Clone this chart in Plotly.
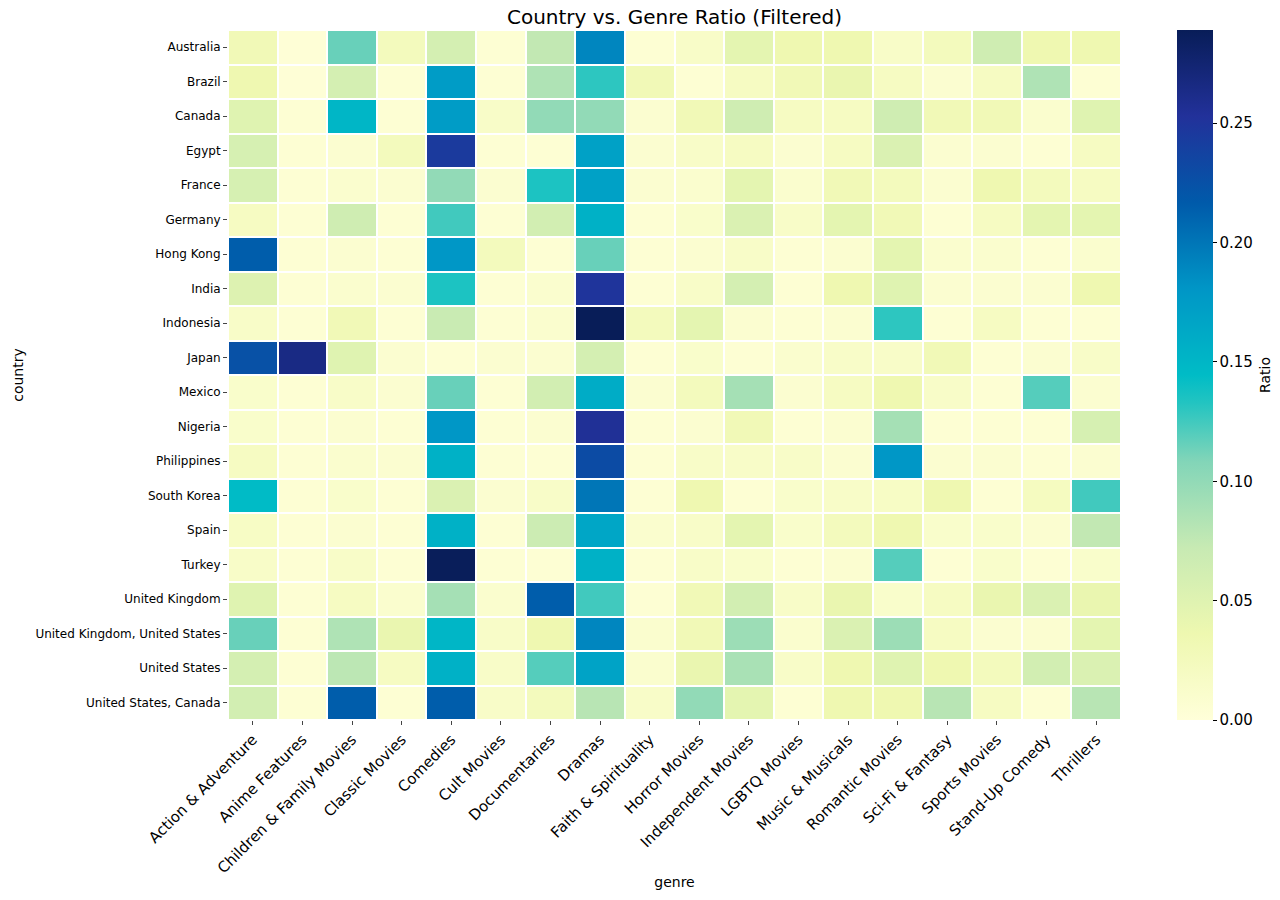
import plotly.graph_objects as go

countries = ["Australia", "Brazil", "Canada", "Egypt", "France", "Germany", "Hong Kong",
             "India", "Indonesia", "Japan", "Mexico", "Nigeria", "Philippines", "South Korea",
             "Spain", "Turkey", "United Kingdom", "United Kingdom, United States",
             "United States", "United States, Canada"]

genres = ["Action & Adventure", "Anime Features", "Children & Family Movies", "Classic Movies",
          "Comedies", "Cult Movies", "Documentaries", "Dramas", "Faith & Spirituality",
          "Horror Movies", "Independent Movies", "LGBTQ Movies", "Music & Musicals",
          "Romantic Movies", "Sci-Fi & Fantasy", "Sports Movies", "Stand-Up Comedy", "Thrillers"]

australia   = [0.030, 0.003, 0.115, 0.025, 0.060, 0.005, 0.075, 0.190, 0.005, 0.015, 0.045, 0.035, 0.035, 0.015, 0.025, 0.065, 0.035, 0.035]
brazil      = [0.035, 0.003, 0.060, 0.005, 0.175, 0.005, 0.085, 0.130, 0.030, 0.005, 0.020, 0.030, 0.040, 0.020, 0.008, 0.020, 0.085, 0.005]
canada      = [0.050, 0.005, 0.150, 0.005, 0.175, 0.015, 0.100, 0.100, 0.008, 0.030, 0.065, 0.020, 0.020, 0.065, 0.030, 0.030, 0.010, 0.050]
egypt       = [0.058, 0.005, 0.008, 0.025, 0.245, 0.005, 0.005, 0.170, 0.008, 0.015, 0.020, 0.008, 0.020, 0.055, 0.008, 0.008, 0.005, 0.020]
france      = [0.058, 0.005, 0.010, 0.008, 0.100, 0.008, 0.135, 0.170, 0.008, 0.010, 0.045, 0.010, 0.030, 0.025, 0.008, 0.035, 0.025, 0.020]
germany     = [0.020, 0.005, 0.065, 0.005, 0.125, 0.005, 0.062, 0.155, 0.005, 0.012, 0.055, 0.015, 0.045, 0.030, 0.005, 0.020, 0.045, 0.045]
hong_kong   = [0.215, 0.005, 0.008, 0.005, 0.180, 0.025, 0.005, 0.115, 0.005, 0.008, 0.015, 0.005, 0.008, 0.045, 0.010, 0.010, 0.005, 0.010]
india       = [0.052, 0.005, 0.010, 0.008, 0.135, 0.005, 0.010, 0.250, 0.005, 0.015, 0.060, 0.005, 0.035, 0.050, 0.008, 0.008, 0.008, 0.035]
indonesia   = [0.015, 0.005, 0.030, 0.005, 0.070, 0.005, 0.010, 0.289, 0.025, 0.045, 0.008, 0.005, 0.008, 0.130, 0.005, 0.020, 0.005, 0.005]
japan       = [0.225, 0.265, 0.050, 0.008, 0.005, 0.008, 0.008, 0.060, 0.005, 0.012, 0.005, 0.010, 0.015, 0.015, 0.030, 0.005, 0.008, 0.015]
mexico      = [0.012, 0.005, 0.015, 0.008, 0.115, 0.005, 0.062, 0.160, 0.008, 0.025, 0.090, 0.008, 0.020, 0.035, 0.015, 0.005, 0.120, 0.008]
nigeria     = [0.012, 0.005, 0.008, 0.005, 0.180, 0.005, 0.008, 0.255, 0.005, 0.008, 0.030, 0.005, 0.008, 0.090, 0.005, 0.005, 0.005, 0.058]
philippines = [0.020, 0.005, 0.010, 0.008, 0.155, 0.005, 0.005, 0.230, 0.005, 0.015, 0.015, 0.015, 0.008, 0.180, 0.008, 0.008, 0.005, 0.008]
south_korea = [0.145, 0.005, 0.012, 0.005, 0.055, 0.008, 0.015, 0.200, 0.005, 0.035, 0.005, 0.012, 0.015, 0.018, 0.035, 0.005, 0.022, 0.125]
spain       = [0.018, 0.005, 0.008, 0.005, 0.155, 0.005, 0.068, 0.165, 0.010, 0.015, 0.045, 0.012, 0.025, 0.035, 0.012, 0.012, 0.008, 0.075]
turkey      = [0.015, 0.005, 0.015, 0.005, 0.288, 0.005, 0.005, 0.155, 0.005, 0.015, 0.012, 0.005, 0.008, 0.120, 0.005, 0.012, 0.005, 0.012]
uk          = [0.050, 0.005, 0.020, 0.010, 0.090, 0.010, 0.215, 0.125, 0.005, 0.030, 0.062, 0.015, 0.040, 0.012, 0.020, 0.040, 0.055, 0.040]
uk_us       = [0.115, 0.005, 0.085, 0.040, 0.150, 0.015, 0.035, 0.190, 0.010, 0.030, 0.095, 0.010, 0.055, 0.095, 0.020, 0.008, 0.008, 0.045]
us          = [0.060, 0.005, 0.078, 0.020, 0.155, 0.015, 0.120, 0.168, 0.010, 0.040, 0.088, 0.015, 0.035, 0.050, 0.035, 0.025, 0.062, 0.055]
us_canada   = [0.062, 0.005, 0.215, 0.005, 0.215, 0.015, 0.025, 0.080, 0.015, 0.100, 0.045, 0.005, 0.035, 0.035, 0.080, 0.020, 0.005, 0.080]

z = [australia, brazil, canada, egypt, france, germany, hong_kong, india, indonesia, japan,
     mexico, nigeria, philippines, south_korea, spain, turkey, uk, uk_us, us, us_canada]

colorbar_ticks = [0.0, 0.05, 0.10, 0.15, 0.20, 0.25]

# YlGnBu, tuned to the (slightly more saturated) look of the reference
ylgnbu = [[0.0, "#ffffd9"], [0.125, "#eef8b0"], [0.25, "#c7eab3"], [0.375, "#82d5b8"],
          [0.46, "#22c4c1"], [0.5, "#00bcc6"], [0.625, "#0096c6"], [0.75, "#005aaa"],
          [0.875, "#22319a"], [1.0, "#081d58"]]

FONT = "DejaVu Sans"
W, H = 1280, 900
L, R, T, B = 228, W - 1121, 30, H - 720
PW = W - L - R

fig = go.Figure(go.Heatmap(
    z=z, x=genres, y=countries,
    colorscale=ylgnbu, zmin=0, zmax=0.289,
    xgap=2, ygap=2,
    colorbar=dict(
        thickness=36, len=1.0, lenmode="fraction",
        x=(1177 - L) / PW, xanchor="left", xpad=0,
        y=0.5, yanchor="middle", ypad=0, outlinewidth=0,
        tickvals=colorbar_ticks, ticktext=[f"{v:.2f}" for v in colorbar_ticks],
        ticks="outside", ticklen=4, tickcolor="black",
        tickfont=dict(size=15, family=FONT, color="black"),
    ),
))

fig.add_annotation(text="Ratio", xref="paper", yref="paper",
                   x=(1265 - L) / PW, y=0.5, xanchor="center", yanchor="middle",
                   textangle=-90, showarrow=False,
                   font=dict(size=14, family=FONT, color="black"))

fig.update_layout(
    width=W, height=H,
    margin=dict(l=L, r=R, t=T, b=B, autoexpand=False),
    paper_bgcolor="white", plot_bgcolor="white",
    font=dict(family=FONT, color="black"),
    title=dict(text="Country vs. Genre Ratio (Filtered)", xref="paper", x=0.5, xanchor="center",
               yref="container", y=1 - 17 / H, yanchor="middle",
               font=dict(size=20, family=FONT, color="black")),
    xaxis=dict(title=dict(text="genre", font=dict(size=14), standoff=1),
               tickangle=-45, tickfont=dict(size=15), ticks="outside", ticklen=4,
               showgrid=False, zeroline=False, automargin=False),
    yaxis=dict(title=dict(text="country", font=dict(size=14), standoff=8),
               autorange="reversed", tickfont=dict(size=12), ticks="outside", ticklen=4,
               showgrid=False, zeroline=False, automargin=False),
)

# remove the browser's default 8px body margin so the figure fills the window exactly
fig.write_html("out.html", config={"displayModeBar": False},
               post_script="document.body.style.margin='0';")
